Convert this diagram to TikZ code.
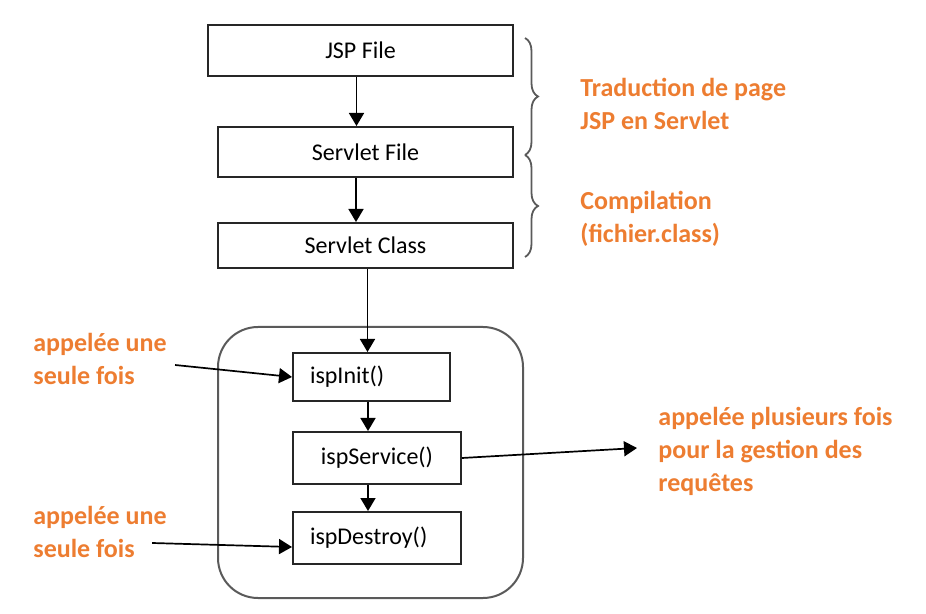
\documentclass[tikz,border=0pt]{standalone}
\usepackage{fontspec}
\setmainfont{Carlito}
\usepackage{tikz}
\usetikzlibrary{arrows.meta, positioning, calc, decorations.pathreplacing}
\definecolor{noteorange}{RGB}{237,125,49}
\definecolor{framegray}{RGB}{90,90,90}
\tikzset{
    stagebox/.style={rectangle, draw=black!85, line width=1pt, fill=white,
                     align=center, inner sep=0pt, font=\fontsize{12}{14}\selectfont},
    fnbox/.style={stagebox, align=left, inner xsep=8.5pt},
    arrow/.style={-{Triangle[length=6.5pt, width=7.5pt]}, line width=0.85pt, draw=black},
    note/.style={align=left, inner sep=0pt, text=noteorange,
                 font=\fontsize{13}{16.5}\selectfont\bfseries},
    curly/.style={decorate, decoration={brace, amplitude=6.5pt}, draw=framegray, line width=0.9pt},
}
\begin{document}
\begin{tikzpicture}[x=0.5pt, y=-0.5pt]
    \useasboundingbox (0,0) rectangle (926,614);
    % translation chain
    \node[stagebox, minimum width=152.5pt, minimum height=25.5pt] (jsp) at (360.5,50.5) {JSP File};
    \node[stagebox, minimum width=147.5pt, minimum height=25pt] (sfile) at (365.5,152) {Servlet File};
    \node[stagebox, minimum width=147.5pt, minimum height=22.5pt] (sclass) at (365.5,245.5) {Servlet Class};
    % life cycle
    \node[rectangle, rounded corners=20pt, draw=framegray, line width=1pt,
          minimum width=152.5pt, minimum height=135.5pt] (cycle) at (370.5,462.5) {};
    \node[fnbox, text width=61.5pt, minimum height=24pt] (init) at (371.5,377) {ispInit()};
    \node[stagebox, minimum width=84pt, minimum height=26pt] (service) at (377,458) {ispService()};
    \node[fnbox, text width=67pt, minimum height=26pt] (destroy) at (377,538) {ispDestroy()};
    \draw[arrow] ([xshift=-2pt]jsp.south) -- ([xshift=-2pt]jsp.south |- sfile.north);
    \draw[arrow] ([xshift=-4.75pt]sfile.south) -- ([xshift=-4.75pt]sclass.north);
    \draw[arrow] ([xshift=1pt]sclass.south) -- ([xshift=1pt]sclass.south |- init.north);
    \draw[arrow] ([xshift=-1.75pt]init.south) -- ([xshift=-1.75pt]init.south |- service.north);
    \draw[arrow] ([xshift=-4.5pt]service.south) -- ([xshift=-4.5pt]destroy.north);
    % braces
    \coordinate (b1top) at (525,38);
    \coordinate (b1bot) at (525,155);
    \coordinate (b2bot) at (525,257);
    \draw[curly] (b1top) -- (b1bot);
    \draw[curly] (b1bot) -- (b2bot);
    % notes
    \node[note, anchor=west] (trad) at (580,103.5) {Traduction de page\\JSP en Servlet};
    \node[note, anchor=west] (comp) at (580,219) {Compilation\\(fichier.class)};
    \node[note, anchor=west] (once1) at (33,359) {appelée une\\seule fois};
    \node[note, anchor=west] (once2) at (33,531.5) {appelée une\\seule fois};
    \node[note, anchor=west] (many) at (658,451) {appelée plusieurs fois\\pour la gestion des\\requêtes};
    \draw[arrow] ([xshift=4pt, yshift=-3pt]once1.east) -- (init.west);
    \draw[arrow] ([xshift=-7.5pt, yshift=-5.75pt]once2.east) -- ([yshift=-4.5pt]destroy.west);
    \draw[arrow] (service.east) -- ([xshift=-10.5pt, yshift=1.5pt]many.west);
\end{tikzpicture}
\end{document}
